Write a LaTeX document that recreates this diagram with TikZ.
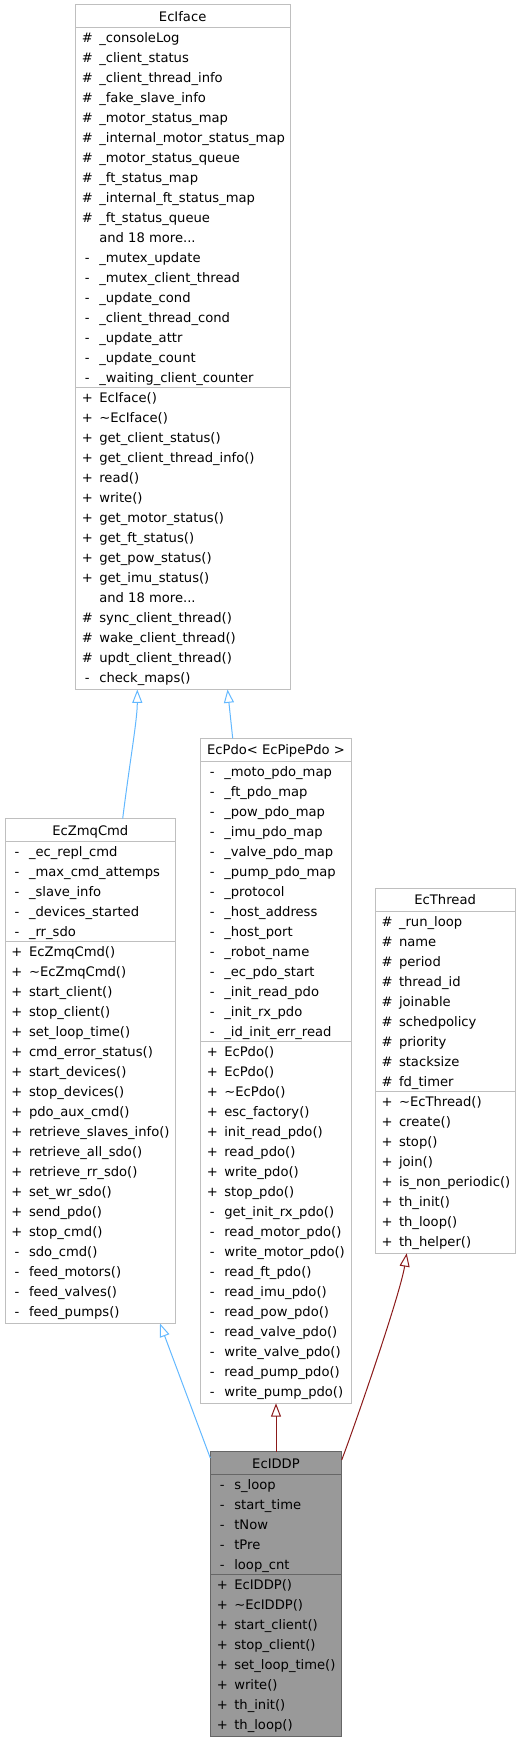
\documentclass[tikz,border=0pt]{standalone}
\usepackage{fontspec}
\setmainfont{DejaVu Sans}
\usetikzlibrary{arrows.meta,calc}
\definecolor{boxgray}{HTML}{BFBFBF}
\definecolor{hlfill}{HTML}{999999}
\definecolor{hlborder}{HTML}{666666}
\definecolor{pubedge}{HTML}{63B8FF}
\definecolor{privedge}{HTML}{8B1A1A}
\newcommand\andmore{and 18 more...}
\tikzset{
  cls/.style={rectangle, draw=boxgray, line width=0.75pt, fill=white, inner sep=0pt, outer sep=0pt, anchor=north west},
  hlcls/.style={cls, draw=hlborder, fill=hlfill},
  clssep/.style={draw=boxgray, line width=0.75pt},
  hlclssep/.style={draw=hlborder, line width=0.75pt},
  txt/.style={inner sep=0pt, outer sep=0pt, font=\fontsize{9.85}{12}\selectfont, text=black},
  inh/.style={line width=0.75pt, -{Triangle[open, length=10pt, width=7.5pt]}},
  pub/.style={inh, draw=pubedge},
  priv/.style={inh, draw=privedge},
}
% rows: #1 prefix, #2 left, #3 top of first row, #4 list sym/text
\newcommand\rowsat[4]{%
  \foreach \s/\t [count=\i] in {#4} {
    \node[txt, anchor=base] (#1s\i) at (#2+12, #3+20*\i-5) {\s};
    \node[txt, anchor=base west] (#1t\i) at (#2+24, #3+20*\i-5) {\t};
  }}
% box: #1 name, #2 style, #3 left, #4 right, #5 top, #6 n attrs, #7 n methods, #8 title
\newcommand\clsbox[8]{%
  \pgfmathsetmacro\bw{(#4-#3)*0.75}
  \pgfmathsetmacro\bh{(23+20*(#6+#7)+2)*0.75}
  \node[#2, minimum width=\bw pt, minimum height=\bh pt] (#1) at (#3,#5) {};
  \draw[#2sep] (#3,#5+23) -- (#4,#5+23);
  \draw[#2sep] (#3,#5+23+20*#6) -- (#4,#5+23+20*#6);
  \node[txt, anchor=base] (#1title) at ({(#3+#4)/2}, #5+16.5) {#8};
}
\begin{document}
\begin{tikzpicture}[x=0.75pt, y=-0.75pt]
\useasboundingbox (0,0) rectangle (521,1743);

% EcIface
\clsbox{iface}{cls}{75.3}{290}{4.5}{18}{15}{EcIface}
\rowsat{ifacea}{75.3}{27.5}{\#/\_consoleLog, \#/\_client\_status, \#/\_client\_thread\_info, \#/\_fake\_slave\_info, \#/\_motor\_status\_map, \#/\_internal\_motor\_status\_map, \#/\_motor\_status\_queue, \#/\_ft\_status\_map, \#/\_internal\_ft\_status\_map, \#/\_ft\_status\_queue, {}/\andmore, -/\_mutex\_update, -/\_mutex\_client\_thread, -/\_update\_cond, -/\_client\_thread\_cond, -/\_update\_attr, -/\_update\_count, -/\_waiting\_client\_counter}
\rowsat{ifacem}{75.3}{387.5}{+/EcIface(), +/\textasciitilde EcIface(), +/get\_client\_status(), +/get\_client\_thread\_info(), +/read(), +/write(), +/get\_motor\_status(), +/get\_ft\_status(), +/get\_pow\_status(), +/get\_imu\_status(), {}/\andmore, \#/sync\_client\_thread(), \#/wake\_client\_thread(), \#/updt\_client\_thread(), -/check\_maps()}

% EcZmqCmd
\clsbox{zmq}{cls}{5}{175.7}{818.5}{5}{19}{EcZmqCmd}
\rowsat{zmqa}{5}{841.5}{-/\_ec\_repl\_cmd, -/\_max\_cmd\_attemps, -/\_slave\_info, -/\_devices\_started, -/\_rr\_sdo}
\rowsat{zmqm}{5}{941.5}{+/EcZmqCmd(), +/\textasciitilde EcZmqCmd(), +/start\_client(), +/stop\_client(), +/set\_loop\_time(), +/cmd\_error\_status(), +/start\_devices(), +/stop\_devices(), +/pdo\_aux\_cmd(), +/retrieve\_slaves\_info(), +/retrieve\_all\_sdo(), +/retrieve\_rr\_sdo(), +/set\_wr\_sdo(), +/send\_pdo(), +/stop\_cmd(), -/sdo\_cmd(), -/feed\_motors(), -/feed\_valves(), -/feed\_pumps()}

% EcPdo
\clsbox{pdo}{cls}{200.3}{351.7}{738.3}{14}{18}{EcPdo< EcPipePdo >}
\rowsat{pdoa}{200.3}{761.3}{-/\_moto\_pdo\_map, -/\_ft\_pdo\_map, -/\_pow\_pdo\_map, -/\_imu\_pdo\_map, -/\_valve\_pdo\_map, -/\_pump\_pdo\_map, -/\_protocol, -/\_host\_address, -/\_host\_port, -/\_robot\_name, -/\_ec\_pdo\_start, -/\_init\_read\_pdo, -/\_init\_rx\_pdo, -/\_id\_init\_err\_read}
\rowsat{pdom}{200.3}{1041.3}{+/EcPdo(), +/EcPdo(), +/\textasciitilde EcPdo(), +/esc\_factory(), +/init\_read\_pdo(), +/read\_pdo(), +/write\_pdo(), +/stop\_pdo(), -/get\_init\_rx\_pdo(), -/read\_motor\_pdo(), -/write\_motor\_pdo(), -/read\_ft\_pdo(), -/read\_imu\_pdo(), -/read\_pow\_pdo(), -/read\_valve\_pdo(), -/write\_valve\_pdo(), -/read\_pump\_pdo(), -/write\_pump\_pdo()}

% EcThread
\clsbox{thread}{cls}{375}{515.3}{888.3}{9}{8}{EcThread}
\rowsat{threada}{375}{911.3}{\#/\_run\_loop, \#/name, \#/period, \#/thread\_id, \#/joinable, \#/schedpolicy, \#/priority, \#/stacksize, \#/fd\_timer}
\rowsat{threadm}{375}{1091.3}{+/\textasciitilde EcThread(), +/create(), +/stop(), +/join(), +/is\_non\_periodic(), +/th\_init(), +/th\_loop(), +/th\_helper()}

% EcIDDP
\clsbox{iddp}{hlcls}{210.3}{341.7}{1451.7}{5}{8}{EcIDDP}
\rowsat{iddpa}{210.3}{1474.7}{-/s\_loop, -/start\_time, -/tNow, -/tPre, -/loop\_cnt}
\rowsat{iddpm}{210.3}{1574.7}{+/EcIDDP(), +/\textasciitilde EcIDDP(), +/start\_client(), +/stop\_client(), +/set\_loop\_time(), +/write(), +/th\_init(), +/th\_loop()}

% connectors
\draw[pub] ($(zmq.north west)!0.6895!(zmq.north east)$) .. controls (130,760) and (137.3,720) .. ($(iface.south west)!0.2888!(iface.south east)$);
\draw[pub] ($(pdo.north west)!0.214!(pdo.north east)$) -- ($(iface.south west)!0.709!(iface.south east)$);
\draw[pub] ($(iddp.north west)+(0,6.3)$) -- ($(zmq.south west)!0.908!(zmq.south east)$);
\draw[priv] (iddp.north) -- (pdo.south);
\draw[priv] ($(iddp.north east)+(0,8.3)$) .. controls (355,1425) and (400,1295) .. ($(thread.south west)!0.226!(thread.south east)$);
\end{tikzpicture}
\end{document}
